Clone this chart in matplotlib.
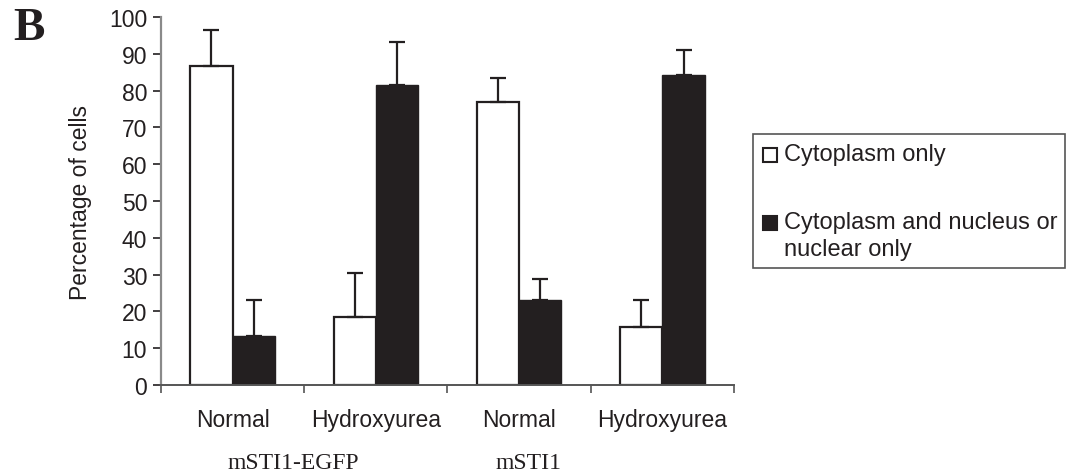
import matplotlib.pyplot as plt
import numpy as np
from matplotlib.patches import Rectangle

plt.rcParams['font.family'] = ['Liberation Sans', 'DejaVu Sans']

# Dados
categorias = ['Normal', 'Hydroxyurea', 'Normal', 'Hydroxyurea']
grupos = ['mSTI1-EGFP', 'mSTI1']
series = ['Cytoplasm only', 'Cytoplasm and nucleus or\nnuclear only']
cyto_only = [86.8, 18.6, 77.0, 15.7]
cyto_err = [9.7, 11.8, 6.3, 7.3]
cyto_nuc = [13.4, 81.5, 23.2, 84.3]
nuc_err = [9.6, 11.6, 5.6, 6.8]

preto = '#231f20'
W, H = 1067, 477

fig = plt.figure(figsize=(W/100, H/100), dpi=100)
ax = fig.add_axes([161/W, 1 - 386/H, (734 - 161)/W, (386 - 18)/H])

x = np.arange(len(categorias))
w = 0.295

ax.bar(x - w/2, cyto_only, w, color='white', edgecolor=preto, linewidth=1.6,
       yerr=[np.zeros(4), cyto_err], capsize=5.5,
       error_kw=dict(ecolor=preto, elinewidth=1.6, capthick=1.6))
ax.bar(x + w/2, cyto_nuc, w, color=preto, edgecolor=preto, linewidth=1.0,
       yerr=[np.zeros(4), nuc_err], capsize=5.5,
       error_kw=dict(ecolor=preto, elinewidth=1.6, capthick=1.6))

ax.set_xlim(-0.5, 3.5)
ax.set_ylim(0, 100)
ax.set_yticks(np.arange(0, 101, 10))
ax.set_xticks(np.arange(-0.5, 3.6, 1))
ax.set_xticklabels([])
ax.tick_params(axis='y', labelsize=16.5, length=6, width=1.2, color=preto, pad=4,
               labelcolor=preto)
ax.tick_params(axis='x', length=6, width=1.2, color='#555555')
for i, c in enumerate(categorias):
    ax.text(i, -9.3, c, ha='center', va='center', fontsize=16.5, color=preto)

for s in ['top', 'right']:
    ax.spines[s].set_visible(False)
ax.spines['left'].set_color('#8a8a8a')
ax.spines['left'].set_linewidth(1.6)
ax.spines['bottom'].set_color('#555555')
ax.spines['bottom'].set_linewidth(1.4)

ax.set_ylabel('Percentage of cells', fontsize=16.5, labelpad=12, color=preto)

# Rótulos dos grupos (serif)
fig.text(293/W, 1 - 464/H, grupos[0], ha='center', va='center',
         fontsize=17, family='Liberation Serif', color=preto)
fig.text(528/W, 1 - 464/H, grupos[1], ha='center', va='center',
         fontsize=17, family='Liberation Serif', color=preto)

fig.text(13/W, 1 - 29/H, 'B', ha='left', va='center', fontsize=34,
         fontweight='bold', family='Liberation Serif', color=preto)

# Legenda (desenhada à mão para alinhar o quadrado com a primeira linha)
fig.add_artist(Rectangle((753/W, 1 - 269/H), (1065 - 753)/W, (269 - 135)/H,
                         transform=fig.transFigure, facecolor='white',
                         edgecolor='#555555', linewidth=1.2))
cores = ['white', preto]
ys = [156, 224]
for cor, lab, yy in zip(cores, series, ys):
    fig.add_artist(Rectangle((763/W, 1 - (yy + 7)/H), 14/W, 14/H,
                             transform=fig.transFigure, facecolor=cor,
                             edgecolor=preto, linewidth=1.5))
    fig.text(784/W, 1 - (yy - 12)/H, lab, ha='left', va='top', fontsize=17,
             color=preto, linespacing=1.3)

plt.savefig('out.png', dpi=100)
